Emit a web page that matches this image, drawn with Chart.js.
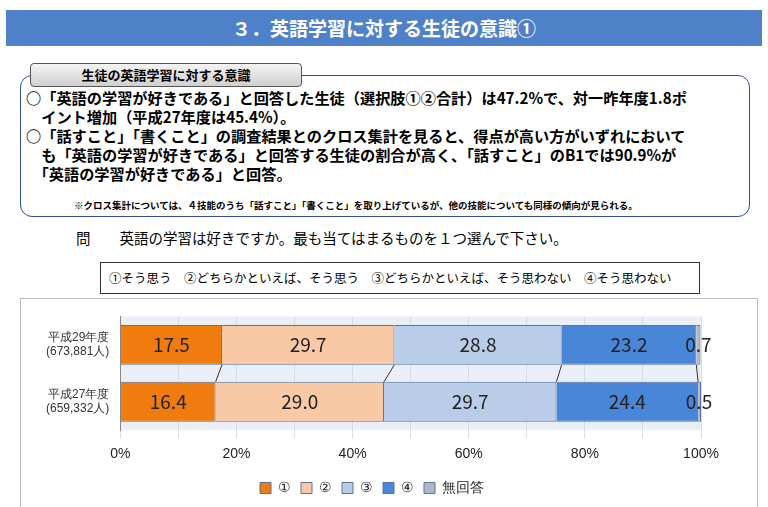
<!DOCTYPE html>
<html><head><meta charset="utf-8">
<script src="https://cdn.jsdelivr.net/npm/chart.js@4"></script>
<style>
body{margin:0;width:768px;height:507px;background:#fff;font-family:"Noto Sans CJK JP",sans-serif;position:relative;overflow:hidden}
.hd{position:absolute;left:6px;top:10px;width:756px;height:36px;background:#4f81c9;color:#fff;font-size:19px;font-weight:bold;text-align:center;line-height:36px}
.box{position:absolute;left:20px;top:75px;width:728px;height:140px;border:1.5px solid #2f4f8f;border-radius:12px}
.tag{position:absolute;left:30px;top:63px;width:270px;height:22px;border:1px solid #555;border-radius:4px;background:linear-gradient(#f4f4f4,#d0d0d0);font-size:13px;font-weight:bold;text-align:center;line-height:22px}
.t{position:absolute;left:26px;font-size:15.2px;font-weight:bold;line-height:19px;white-space:nowrap}
.note{position:absolute;left:74px;top:198px;font-size:9.5px;font-weight:bold}
.q{position:absolute;left:76px;top:227px;font-size:14.5px}
.lg{position:absolute;left:100px;top:262px;width:598px;height:30px;border:1px solid #333;font-size:12.5px;line-height:30px;text-indent:8px}
.cw{position:absolute;left:20px;top:298px;width:736px;height:208px;border:1px solid #bbb}
</style></head><body>
<div class="hd">３．英語学習に対する生徒の意識①</div>
<div class="box"></div>
<div class="tag">生徒の英語学習に対する意識</div>
<div class="t" style="top:88px">○「英語の学習が好きである」と回答した生徒（選択肢①②合計）は47.2%で、対一昨年度1.8ポ</div>
<div class="t" style="top:107px">　イント増加（平成27年度は45.4%）。</div>
<div class="t" style="top:126px">○「話すこと」「書くこと」の調査結果とのクロス集計を見ると、得点が高い方がいずれにおいて</div>
<div class="t" style="top:145px">　も「英語の学習が好きである」と回答する生徒の割合が高く、「話すこと」のB1では90.9%が</div>
<div class="t" style="top:164px">　「英語の学習が好きである」と回答。</div>
<div class="note">※クロス集計については、４技能のうち「話すこと」「書くこと」を取り上げているが、他の技能についても同様の傾向が見られる。</div>
<div class="q">問　　英語の学習は好きですか。最も当てはまるものを１つ選んで下さい。</div>
<div class="lg">①そう思う　②どちらかといえば、そう思う　③どちらかといえば、そう思わない　④そう思わない</div>
<div class="cw"><canvas id="c" width="736" height="208"></canvas></div>
<script>
const labels = [['平成29年度', '(673,881人)'], ['平成27年度', '(659,332人)']];
const seriesNames = ['①', '②', '③', '④', '無回答'];
const s1 = [17.5, 16.4];
const s2 = [29.7, 29.0];
const s3 = [28.8, 29.7];
const s4 = [23.2, 24.4];
const s5 = [0.7, 0.5];
const colors = ['#f07c10', '#f9c9a6', '#b9cde8', '#4a86d8', '#b0b8c8'];

const plotBg = {
    id: 'plotBg',
    beforeDraw(chart) {
        const a = chart.chartArea, ctx = chart.ctx;
        ctx.save();
        ctx.fillStyle = '#e9eef7';
        ctx.fillRect(a.left, a.top, a.right - a.left, a.bottom - a.top);
        ctx.restore();
    }
};
const joins = {
    id: 'joins',
    afterDatasetsDraw(chart) {
        const ctx = chart.ctx;
        ctx.save();
        ctx.strokeStyle = '#333';
        ctx.lineWidth = 1;
        for (let d = 0; d < 4; d++) {
            const m = chart.getDatasetMeta(d).data;
            ctx.beginPath();
            ctx.moveTo(m[0].x, m[0].y + m[0].height / 2);
            ctx.lineTo(m[1].x, m[1].y - m[1].height / 2);
            ctx.stroke();
        }
        ctx.restore();
    }
};
const vals = {
    id: 'vals',
    afterDatasetsDraw(chart) {
        const ctx = chart.ctx;
        ctx.save();
        ctx.font = '19px "Noto Sans CJK JP"';
        ctx.fillStyle = '#222';
        ctx.textAlign = 'center';
        ctx.textBaseline = 'middle';
        chart.data.datasets.forEach((ds, i) => {
            chart.getDatasetMeta(i).data.forEach((b, j) => {
                const x = (b.x + b.base) / 2;
                ctx.fillText(ds.data[j].toFixed(1), i == 4 ? b.x - 2 : x, b.y);
            });
        });
        ctx.restore();
    }
};

new Chart(document.getElementById('c'), {
    type: 'bar',
    data: {
        labels: labels,
        datasets: [s1, s2, s3, s4, s5].map((d, i) => ({
            label: seriesNames[i],
            data: d,
            backgroundColor: colors[i],
            borderColor: '#5a7399',
            borderWidth: 1,
            barPercentage: 0.7,
            categoryPercentage: 1
        }))
    },
    options: {
        indexAxis: 'y',
        responsive: false,
        animation: false,
        layout: { padding: { left: 22, right: 56, top: 14, bottom: 2 } },
        plugins: {
            legend: {
                position: 'bottom',
                labels: { boxWidth: 11, boxHeight: 11, font: { size: 14 }, color: '#222', padding: 10 }
            },
            tooltip: { enabled: false }
        },
        scales: {
            x: {
                stacked: true, min: 0, max: 100,
                ticks: { stepSize: 10, font: { size: 14 }, color: '#222', padding: 8,
                    callback: v => v % 20 == 0 ? v + '%' : '' },
                grid: { color: '#d6dce6' },
                border: { display: false }
            },
            y: {
                stacked: true,
                ticks: { font: { size: 12 }, color: '#333' },
                grid: { display: false },
                border: { color: '#888' }
            }
        }
    },
    plugins: [plotBg, joins, vals]
});
</script>
</body></html>
